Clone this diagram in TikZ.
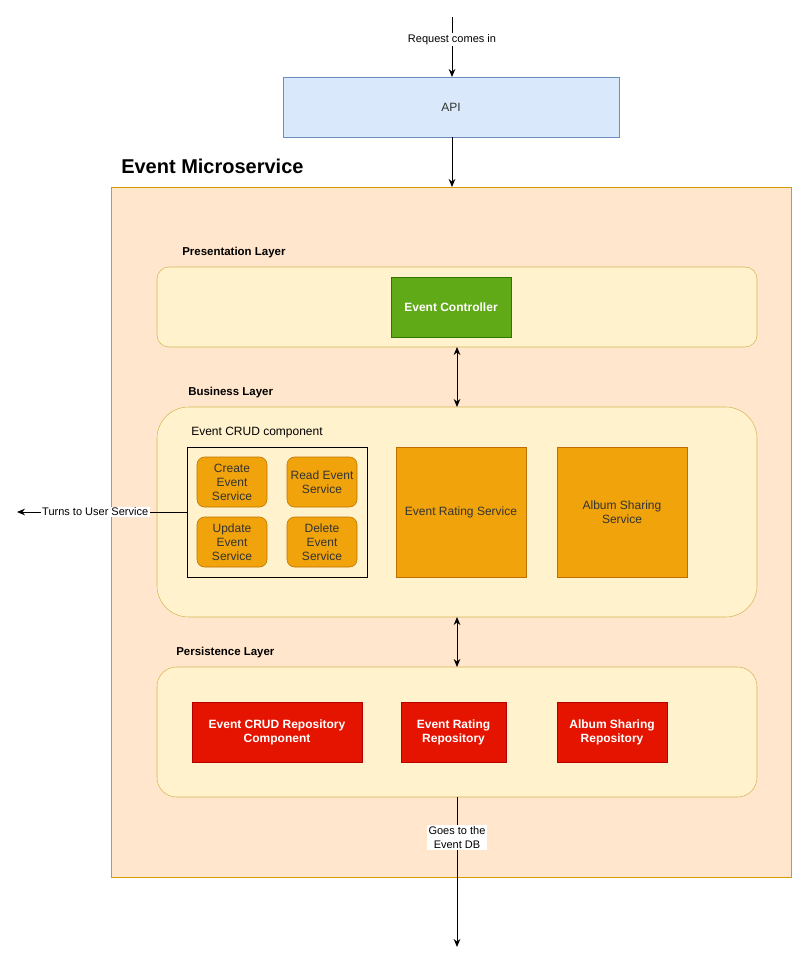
\documentclass[tikz,border=0pt]{standalone}
\usepackage{fontspec}
\setmainfont{Liberation Sans}
\usetikzlibrary{arrows.meta}
\definecolor{apifill}{HTML}{DAE8FC}
\definecolor{apidraw}{HTML}{6C8EBF}
\definecolor{msfill}{HTML}{FFE6CC}
\definecolor{msdraw}{HTML}{D79B00}
\definecolor{layfill}{HTML}{FFF2CC}
\definecolor{laydraw}{HTML}{D6B656}
\definecolor{gfill}{HTML}{60A917}
\definecolor{gdraw}{HTML}{2D7600}
\definecolor{ofill}{HTML}{F0A30A}
\definecolor{odraw}{HTML}{BD7000}
\definecolor{rfill}{HTML}{E51400}
\definecolor{rdraw}{HTML}{B20000}
\definecolor{txt}{HTML}{333333}
\tikzset{
  sz/.style 2 args={minimum width=#1*0.75pt, minimum height=#2*0.75pt},
  base/.style={inner sep=0pt, outer sep=0pt, align=center, font=\fontsize{9}{10.5}\selectfont},
  apibox/.style={base, draw=apidraw, fill=apifill, text=txt},
  msbox/.style={base, draw=msdraw, fill=msfill},
  layer/.style={base, draw=laydraw, fill=layfill, rounded corners=#1*0.75pt},
  ctrl/.style={base, draw=gdraw, fill=gfill, text=white, font=\fontsize{9}{10.5}\selectfont\bfseries},
  svc/.style={base, draw=odraw, fill=ofill, text=txt},
  small/.style={svc, rounded corners=7.5*0.75pt},
  repo/.style={base, draw=rdraw, fill=rfill, text=white, font=\fontsize{9}{10.5}\selectfont\bfseries},
  lbl/.style={inner sep=1pt, font=\fontsize{8.25}{10}\selectfont, fill=white, align=center},
  laylbl/.style={anchor=base west, inner sep=0pt, font=\fontsize{8.6}{10}\selectfont\bfseries, text=black},
  arr/.style={-{Stealth[length=6pt,width=5pt]}, line width=0.75pt},
  darr/.style={{Stealth[length=6pt,width=5pt]}-{Stealth[length=6pt,width=5pt]}, line width=0.75pt},
}
\begin{document}
\begin{tikzpicture}[x=0.75pt, y=-0.75pt]
\useasboundingbox (0,0) rectangle (802,967);
% API
\coordinate (top) at (452,17);
\node[apibox, sz={336}{60}] (api) at (451,107) {API};
% Microservice
\node[msbox, sz={680}{690}] (ms) at (451,532) {};
\node[anchor=base west, inner sep=0pt, font=\fontsize{15}{18}\selectfont\bfseries] (mstitle) at (121,173) {Event Microservice};
% Presentation layer
\node[layer=12, sz={600}{80}] (pres) at (457,307) {};
\node[laylbl] (preslbl) at (182,255.5) {Presentation Layer};
\node[ctrl, sz={120}{60}] (ctrl) at (451,307) {Event Controller};
% Business layer
\node[layer=31.5, sz={600}{210}] (bus) at (457,512) {};
\node[laylbl] (buslbl) at (188,395.5) {Business Layer};
\node[anchor=base west, inner sep=0pt, font=\fontsize{9}{10.5}\selectfont] (crudlbl) at (191,435.5) {Event CRUD component};
\node[base, draw=black, sz={180}{130}] (crud) at (277,512) {};
\node[small, sz={70}{50}] (create) at (232,482) {Create\\Event\\Service};
\node[small, sz={70}{50}] (read) at (322,482) {Read Event\\Service};
\node[small, sz={70}{50}] (update) at (232,542) {Update\\Event\\Service};
\node[small, sz={70}{50}] (delete) at (322,542) {Delete\\Event\\Service};
\node[svc, sz={130}{130}] (rating) at (461,512) {Event Rating Service};
\node[svc, sz={130}{130}] (album) at (622,512) {Album Sharing\\Service};
% Persistence layer
\node[layer=19.5, sz={600}{130}] (pers) at (457,732) {};
\node[laylbl] (perslbl) at (176,655.5) {Persistence Layer};
\node[repo, sz={170}{60}] (crudrepo) at (277,732) {Event CRUD Repository\\Component};
\node[repo, sz={105}{60}] (ratingrepo) at (453.5,732) {Event Rating\\Repository};
\node[repo, sz={110}{60}] (albumrepo) at (612,732) {Album Sharing\\Repository};
% connectors
\draw[arr] (top) -- (api.north -| top) node[lbl, pos=0.37] {Request comes in};
\draw[arr] (api.south -| top) -- (ms.north -| top);
\draw[darr] (457,347) coordinate (pb) -- (457,407) coordinate (bt);
\draw[darr] (457,617) coordinate (bb) -- (457,667) coordinate (pt);
\coordinate (user) at (17,512);
\draw[arr] (crud.west) -- (user) node[lbl, pos=0.54] {Turns to User Service};
\coordinate (db) at (457,947);
\draw[arr] (pers.south -| db) -- (db) node[lbl, pos=0.27] {Goes to the\\Event DB};
\end{tikzpicture}
\end{document}
